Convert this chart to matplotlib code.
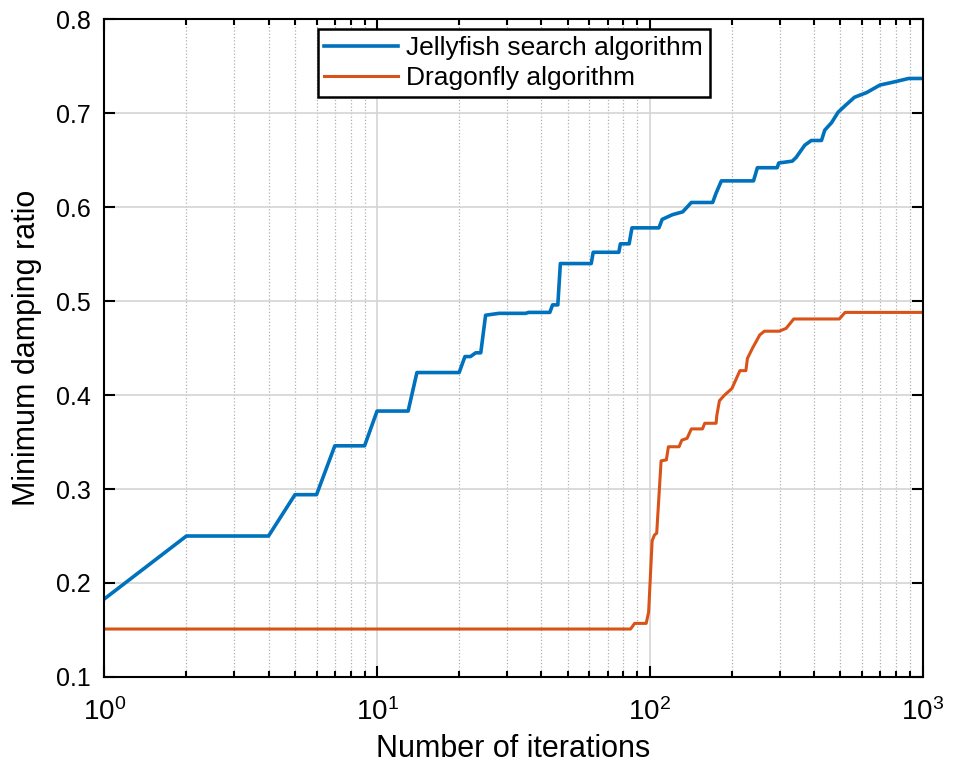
import numpy as np
import matplotlib
matplotlib.use("Agg")
import matplotlib.pyplot as plt
from matplotlib.ticker import LogLocator, NullFormatter

# convergence curves (iteration, minimum damping ratio)
js_iter = [1, 2, 4, 5, 6, 7, 9, 10, 13, 14, 20, 21, 22, 23, 24, 25, 28, 35, 36, 43,
           44, 46, 47, 61, 62, 77, 78, 84, 86, 108, 111, 121, 132, 142, 170, 175,
           183, 240, 248, 293, 297, 333, 344, 370, 391, 426, 438, 464, 490, 520,
           563, 624, 698, 778, 890, 1000]
js_val = [0.183, 0.250, 0.250, 0.294, 0.294, 0.346, 0.346, 0.383, 0.383, 0.424,
          0.424, 0.441, 0.441, 0.445, 0.445, 0.485, 0.487, 0.487, 0.488, 0.488,
          0.496, 0.496, 0.540, 0.540, 0.552, 0.552, 0.561, 0.561, 0.578, 0.578,
          0.587, 0.592, 0.595, 0.605, 0.605, 0.615, 0.628, 0.628, 0.642, 0.642,
          0.647, 0.649, 0.653, 0.666, 0.671, 0.671, 0.682, 0.690, 0.701, 0.708,
          0.717, 0.722, 0.730, 0.733, 0.737, 0.737]

da_iter = [1, 85, 88, 97, 99, 102, 104, 106, 110, 115, 117, 128, 131, 137, 142,
           156, 159, 175, 176, 180, 188, 200, 214, 225, 228, 238, 253, 263, 298,
           316, 337, 495, 520, 1000]
da_val = [0.151, 0.151, 0.157, 0.157, 0.169, 0.245, 0.251, 0.253, 0.330, 0.331,
          0.345, 0.345, 0.352, 0.354, 0.364, 0.364, 0.370, 0.370, 0.378, 0.394,
          0.400, 0.407, 0.426, 0.426, 0.439, 0.450, 0.464, 0.468, 0.468, 0.471,
          0.481, 0.481, 0.488, 0.488]

labels = ["Jellyfish search algorithm", "Dragonfly algorithm"]
colors = ["#0072BD", "#D95319"]
yticks = [0.1, 0.2, 0.3, 0.4, 0.5, 0.6, 0.7, 0.8]

plt.rcParams['font.family'] = ['Liberation Sans', 'DejaVu Sans']
plt.rcParams['mathtext.fontset'] = 'custom'
plt.rcParams['mathtext.rm'] = 'Liberation Sans'
plt.rcParams['mathtext.it'] = 'Liberation Sans'

fig = plt.figure(figsize=(9.57, 7.71), dpi=100)
ax = fig.add_axes([0.109, 0.122, 0.855, 0.853])

ax.plot(js_iter, js_val, color=colors[0], lw=2.6, label=labels[0])
ax.plot(da_iter, da_val, color=colors[1], lw=2.2, label=labels[1])

ax.set_xscale('log')
ax.set_xlim(1, 1000)
ax.set_ylim(0.1, 0.8)
ax.set_yticks(yticks)
ax.set_yticklabels([f"{v:.1f}" for v in yticks])
ax.xaxis.set_minor_locator(LogLocator(base=10, subs=np.arange(2, 10)))
ax.xaxis.set_minor_formatter(NullFormatter())

ax.grid(True, which='major', color='#d4d4d4', lw=1.2, ls='-')
ax.grid(True, which='minor', axis='x', color='#b0b0b0', lw=0.9, ls=':')
ax.set_axisbelow(True)

ax.tick_params(which='both', direction='in', top=True, right=True, width=1.5)
ax.tick_params(which='major', length=8)
ax.tick_params(which='minor', length=4)
ax.tick_params(axis='y', labelsize=18, pad=10)
ax.tick_params(axis='x', which='major', labelsize=20, pad=15)
for s in ax.spines.values():
    s.set_linewidth(1.5)

ax.set_xlabel("Number of iterations", fontsize=22, labelpad=6)
ax.set_ylabel("Minimum damping ratio", fontsize=22, labelpad=10)

leg = ax.legend(loc='upper left', bbox_to_anchor=(0.261, 0.985), fontsize=19,
                fancybox=False, framealpha=1, edgecolor='black',
                handlelength=2.8, handletextpad=0.3, borderpad=0.25,
                labelspacing=0.25, borderaxespad=0)
leg.get_frame().set_linewidth(1.8)

fig.savefig("out.png", dpi=100)
